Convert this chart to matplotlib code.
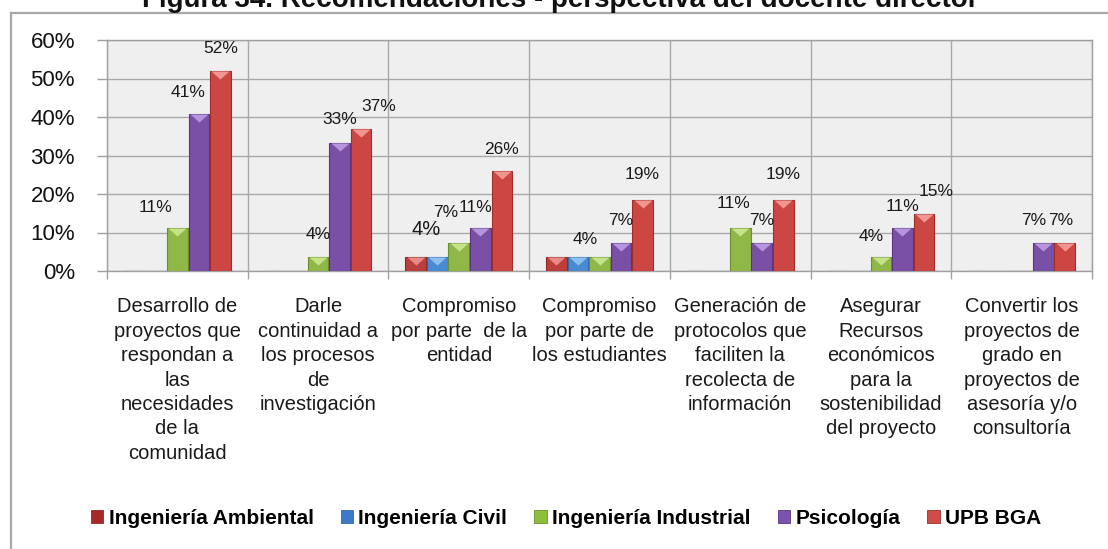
import matplotlib
matplotlib.use("Agg")
import matplotlib.pyplot as plt
import matplotlib.transforms as mtransforms
from matplotlib.patches import Rectangle
from matplotlib.lines import Line2D
import numpy as np

# ---------------- data ----------------
categories = [
    "Desarrollo de\nproyectos que\nrespondan a\nlas\nnecesidades\nde la\ncomunidad",
    "Darle\ncontinuidad a\nlos procesos\nde\ninvestigación",
    "Compromiso\npor parte  de la\nentidad",
    "Compromiso\npor parte de\nlos estudiantes",
    "Generación de\nprotocolos que\nfaciliten la\nrecolecta de\ninformación",
    "Asegurar\nRecursos\neconómicos\npara la\nsostenibilidad\ndel proyecto",
    "Convertir los\nproyectos de\ngrado en\nproyectos de\nasesoría y/o\nconsultoría",
]
series_names = ["Ingeniería Ambiental", "Ingeniería Civil", "Ingeniería Industrial",
                "Psicología", "UPB BGA"]
ambiental = [0, 0, 3.7, 3.7, 0, 0, 0]
civil = [0, 0, 3.7, 3.7, 0, 0, 0]
industrial = [11.1, 3.7, 7.4, 3.7, 11.1, 3.7, 0]
psicologia = [40.7, 33.3, 11.1, 7.4, 7.4, 11.1, 7.4]
upb_bga = [51.9, 37.0, 25.9, 18.5, 18.5, 14.8, 7.4]
y_ticks = [0, 10, 20, 30, 40, 50, 60]
y_tick_labels = ["0%", "10%", "20%", "30%", "40%", "50%", "60%"]
title = "Figura 34. Recomendaciones - perspectiva del docente director"

series = [ambiental, civil, industrial, psicologia, upb_bga]

# ---------------- style ----------------
colors = ["#bb3f3c", "#4a8ad2", "#8fb848", "#7a4fa6", "#cc4744"]
edge_colors = ["#8e2a28", "#2f6aa8", "#6c8f2c", "#5a3680", "#9c2f2c"]
bevel_colors = ["#e88a86", "#8cc0f0", "#c6e28a", "#b596de", "#f09590"]
legend_colors = ["#a8282a", "#3f78c8", "#8cbf3c", "#7a52b0", "#d04a47"]

# label placement tweaks in pixels: (series, category) -> (dx, dy above top)
label_tweaks = {
    (2, 0): (-22, 21), (3, 0): (-11, 22), (4, 0): (0, 23),
    (2, 1): (0, 22), (3, 1): (0, 23), (4, 1): (18, 22),
    (0, 2): (10, 27), (2, 2): (-13, 30), (3, 2): (-5, 21), (4, 2): (0, 22),
    (1, 3): (7, 17), (3, 3): (0, 22), (4, 3): (0, 25),
    (2, 4): (-7, 25), (3, 4): (0, 22), (4, 4): (0, 25),
    (2, 5): (-10, 20), (3, 5): (0, 22), (4, 5): (12, 23),
    (3, 6): (-9, 22), (4, 6): (-4, 22),
}
big_labels = {(0, 2)}
hidden_labels = {(1, 2), (0, 3), (2, 3)}

W, H = 1108, 549
fig = plt.figure(figsize=(W / 100, H / 100), dpi=100)
fig.patch.set_facecolor("white")

# chart frame
fig.add_artist(Line2D([11 / W, 11 / W], [0, 1 - 13 / H], color="#a8a8a8", lw=1.6,
                      transform=fig.transFigure))
fig.add_artist(Line2D([11 / W, 1], [1 - 13 / H, 1 - 13 / H], color="#a8a8a8", lw=1.6,
                      transform=fig.transFigure))

left, right, top, bottom = 107, 1092, 40, 271
ax = fig.add_axes([left / W, 1 - bottom / H, (right - left) / W, (bottom - top) / H])
ax.set_facecolor("#efefef")

n_cat = len(categories)
x = np.arange(n_cat)
bw = 0.153
offsets = (np.arange(len(series)) - 2) * bw

ax.set_xlim(-0.5, n_cat - 0.5)
ax.set_ylim(0, 60)

for j, vals in enumerate(series):
    xs = x + offsets[j]
    ax.bar(xs, vals, width=bw * 0.96, color=colors[j], edgecolor=edge_colors[j],
           linewidth=0.8, zorder=3)
    # bevel highlight at the top of each bar
    off = mtransforms.ScaledTranslation(0, -4 / 100, fig.dpi_scale_trans)
    for xi, v in zip(xs, vals):
        if v > 0:
            ax.plot([xi], [v], marker=[(-1, 0.45), (1, 0.45), (0, -0.45), (-1, 0.45)],
                    ms=13, color=bevel_colors[j], mec="none", zorder=4,
                    transform=ax.transData + off)
    for i, v in enumerate(vals):
        if v <= 0 or (j, i) in hidden_labels:
            continue
        dx, dy = label_tweaks.get((j, i), (0, 22))
        size = 14.5 if (j, i) in big_labels else 12.5
        ax.annotate(f"{int(v + 0.5)}%", xy=(xs[i], v), xytext=(dx, dy),
                    textcoords="offset pixels", ha="center", va="center",
                    fontsize=size, family="Liberation Sans", color="#1a1a1a",
                    zorder=5)

# axes styling
ax.set_yticks(y_ticks)
ax.set_yticklabels(y_tick_labels, fontsize=16, family="Liberation Sans", color="#111111")
ax.tick_params(axis="y", length=7, width=1, color="#a0a0a0", pad=16)
ax.set_xticks(x)
ax.set_xticklabels(categories, fontsize=14.5, family="Liberation Sans", color="#1a1a1a",
                   linespacing=1.36, va="top")
ax.tick_params(axis="x", which="major", length=0, pad=19)
ax.set_xticks(np.arange(n_cat + 1) - 0.5, minor=True)
ax.tick_params(axis="x", which="minor", length=6, width=1, color="#a0a0a0", direction="out")
ax.grid(axis="y", which="major", color="#a8a8a8", lw=1.0, zorder=0)
ax.grid(axis="x", which="minor", color="#a8a8a8", lw=1.0, zorder=0)
ax.set_axisbelow(True)
for s in ax.spines.values():
    s.set_color("#a0a0a0")
    s.set_linewidth(1.0)

# legend
handles = [Rectangle((0, 0), 1, 1, facecolor=legend_colors[j], edgecolor=edge_colors[j],
                     lw=0.6) for j in range(len(series))]
fig.legend(handles, series_names, loc="center", bbox_to_anchor=(566 / W, 1 - 518 / H),
           ncol=5, frameon=False, handlelength=0.6, handleheight=0.6, handletextpad=0.25,
           columnspacing=1.3, prop={"family": "Liberation Sans", "weight": "bold", "size": 15})

# title (cropped at the top as in the reference)
fig.text(560 / W, 1 - 7 / H, title, ha="center", va="baseline", fontsize=20,
         fontweight="bold", family="Liberation Sans", color="#111111")

fig.savefig("out.png", dpi=100)
